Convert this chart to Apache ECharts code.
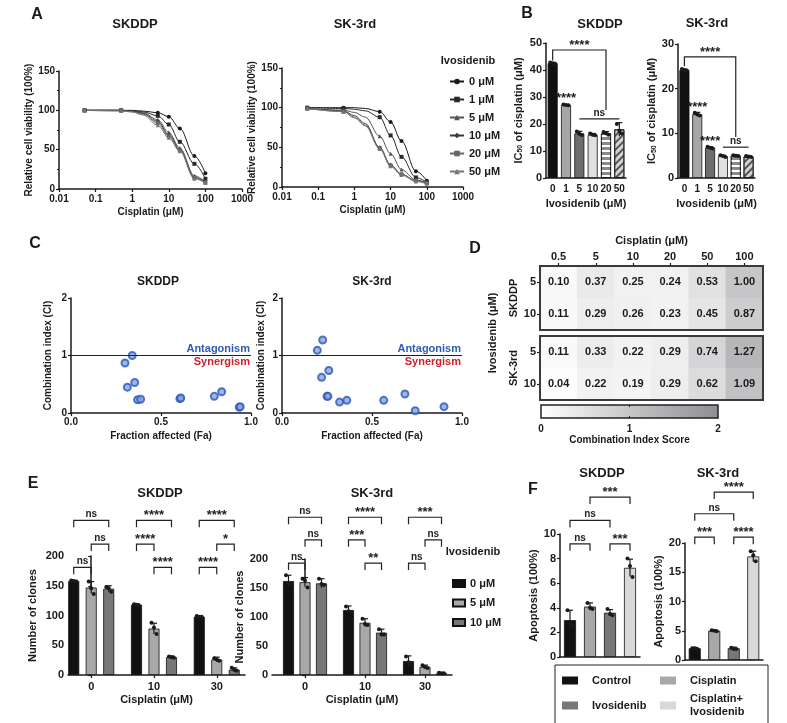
<!DOCTYPE html>
<html>
<head>
<meta charset="utf-8">
<script src="https://cdn.jsdelivr.net/npm/echarts@6/dist/echarts.min.js"></script>
<style>
  html, body { margin: 0; padding: 0; background: #fff; }
  #main { width: 787px; height: 723px; }
</style>
</head>
<body>
<div id="main"></div>
<script>
// ---- data ----
// A: cell viability curves, cisplatin doses (uM)
const aDose = [0.05, 0.5, 1, 2, 5, 10, 20, 50, 100];
const aMeasured = [0.05, 0.5, 5, 10, 20, 50, 100];
const ivoLevels = ['0 μM', '1 μM', '5 μM', '10 μM', '20 μM', '50 μM'];
const aSkddp = [
  [100, 100, 100, 99, 97, 92, 77, 42, 20],
  [100, 100, 99, 98, 93, 82, 60, 32, 13],
  [100, 100, 99, 97, 88, 72, 52, 17, 9],
  [100, 100, 99, 96, 86, 69, 50, 15, 9],
  [100, 100, 98, 95, 84, 67, 49, 14, 8],
  [100, 99, 98, 94, 81, 65, 48, 13, 8]
];
const aSk3rd = [
  [100, 100, 100, 99, 95, 82, 58, 20, 8],
  [100, 99, 98, 96, 88, 65, 38, 12, 6],
  [99, 97, 94, 88, 64, 42, 22, 9, 5],
  [99, 96, 90, 80, 50, 28, 16, 8, 5],
  [99, 95, 88, 78, 49, 27, 16, 8, 5],
  [99, 95, 87, 77, 48, 26, 15, 7, 4]
];

// B: IC50 of cisplatin
const ivoDose = ['0', '1', '5', '10', '20', '50'];
const bSkddp = [42.5, 27.0, 16.5, 16.0, 16.5, 18.0];
const bSkddpErr = [0.3, 0.2, 0.8, 0.5, 0.7, 2.5];
const bSkddpPts = [[42.8, 42.5, 42.3], [27.2, 27.0, 26.9], [17.2, 16.4, 15.9], [16.5, 16.0, 15.8], [17.0, 16.6, 16.0], [20.0, 17.5, 16.5]];
const bSkddpStars = ['', '****', '', '', '', ''];
const bSk3rd = [24.2, 14.3, 6.8, 4.9, 5.0, 4.8];
const bSk3rdErr = [0.2, 0.4, 0.2, 0.2, 0.1, 0.1];
const bSk3rdPts = [[24.4, 24.2, 24.0], [14.6, 14.2, 14.0], [7.0, 6.8, 6.6], [5.1, 4.9, 4.7], [5.1, 5.0, 4.9], [4.9, 4.8, 4.7]];
const bSk3rdStars = ['', '****', '****', '', '', ''];

// C: combination index vs fraction affected [Fa, CI]
const cSkddp = [[0.30, 0.87], [0.34, 1.00], [0.313, 0.45], [0.354, 0.53], [0.37, 0.23], [0.387, 0.24],
  [0.605, 0.25], [0.61, 0.26], [0.796, 0.29], [0.837, 0.37], [0.935, 0.10], [0.94, 0.11]];
const cSk3rd = [[0.196, 1.09], [0.226, 1.27], [0.22, 0.62], [0.26, 0.74], [0.25, 0.29], [0.255, 0.29],
  [0.32, 0.19], [0.36, 0.22], [0.565, 0.22], [0.683, 0.33], [0.74, 0.04], [0.90, 0.11]];

// D: CI heatmap
const cisDose = ['0.5', '5', '10', '20', '50', '100'];
const dRows = ['5', '10'];
const dSkddp = [[0.10, 0.37, 0.25, 0.24, 0.53, 1.00], [0.11, 0.29, 0.26, 0.23, 0.45, 0.87]];
const dSk3rd = [[0.11, 0.33, 0.22, 0.29, 0.74, 1.27], [0.04, 0.22, 0.19, 0.29, 0.62, 1.09]];

// E: colony numbers, groups = cisplatin 0/10/30, series = ivosidenib 0/5/10
const eGroups = ['0', '10', '30'];
const eNames = ['E0', 'E5', 'E10'];
const eLabels = { E0: '0 μM', E5: '5 μM', E10: '10 μM' };
const eSkddp = [[158, 118, 98], [147, 78, 26], [145, 30, 9]];
const eSkddpErr = [[1, 2, 1], [10, 9, 4], [5, 2, 3]];
const eSkddpPts = [
  [[159, 158, 157], [119, 118, 117], [99, 98, 98]],
  [[157, 146, 136], [88, 80, 69], [28, 26, 24]],
  [[148, 146, 140], [31, 30, 29], [12, 9, 7]]
];
const eSk3rd = [[162, 112, 24], [160, 90, 14], [158, 73, 3]];
const eSk3rdErr = [[10, 7, 9], [8, 7, 3], [8, 6, 1]];
const eSk3rdPts = [
  [[172, 158, 157], [118, 110, 108], [32, 22, 19]],
  [[166, 163, 151], [97, 88, 86], [17, 14, 12]],
  [[166, 157, 155], [79, 70, 70], [4, 3, 3]]
];

// F: apoptosis
const fNames = ['Control', 'Cisplatin', 'Ivosidenib', 'Cisplatin+\nIvosidenib'];
const fSkddp = [3.0, 4.1, 3.6, 7.25];
const fSkddpErr = [0.8, 0.3, 0.25, 0.7];
const fSkddpPts = [[3.8, 2.7, 2.5], [4.4, 4.0, 3.9], [3.9, 3.5, 3.4], [8.0, 7.4, 6.5]];
const fSk3rd = [2.0, 5.0, 2.0, 17.7];
const fSk3rdErr = [0.15, 0.15, 0.2, 0.9];
const fSk3rdPts = [[2.0, 2.0, 1.9], [5.1, 5.0, 4.9], [2.1, 1.9, 1.9], [18.6, 17.9, 16.9]];

// significance brackets: [group1, slot1, group2, slot2, y, text, yLeftEnd, yRightEnd]
const bSkddpBr = [[0, 0, 3.5, 0, 47.4, '****', 43.5, 25.2], [2, 0, 5, 0, 21.9, 'ns', 21.9, 21.9]];
const bSk3rdBr = [[0, 0, 4, 0, 27.1, '****', 25, 9.2], [3, 0, 5, 0, 6.9, 'ns', 6.9, 6.9]];
const eSkddpBr = [
  [0, -1, 0, 1, 260, 'ns'], [0, 0, 0, 1, 220, 'ns'], [0, -1, 0, 0, 181, 'ns'],
  [1, -1, 1, 1, 260, '****'], [1, -1, 1, 0, 220, '****'], [1, 0, 1, 1, 181, '****'],
  [2, -1, 2, 1, 260, '****'], [2, 0, 2, 1, 220, '*'], [2, -1, 2, 0, 181, '****']
];
const eSk3rdBr = [
  [0, -1, 0, 1, 272, 'ns'], [0, 0, 0, 1, 233, 'ns'], [0, -1, 0, 0, 193, 'ns'],
  [1, -1, 1, 1, 272, '****'], [1, -1, 1, 0, 233, '***'], [1, 0, 1, 1, 193, '**'],
  [2, -1, 2, 1, 272, '***'], [2, 0, 2, 1, 233, 'ns'], [2, -1, 2, 0, 193, 'ns']
];
const fSkddpBr = [[1, 0, 3, 0, 13.0, '***'], [0, 0, 2, 0, 11.1, 'ns'], [0, 0, 1, 0, 9.2, 'ns'], [2, 0, 3, 0, 9.2, '***']];
const fSk3rdBr = [[1, 0, 3, 0, 28.7, '****'], [0, 0, 2, 0, 25.0, 'ns'], [0, 0, 1, 0, 21.0, '***'], [2, 0, 3, 0, 21.0, '****']];

// ---- styling helpers ----
const FONT = '"Liberation Sans", Arial, sans-serif';
const INK = '#1a1a1a';

function merge(a, b) {
  const out = Object.assign({}, a);
  for (const k in b) {
    if (b[k] && typeof b[k] === 'object' && !Array.isArray(b[k]) && a[k] && typeof a[k] === 'object') out[k] = merge(a[k], b[k]);
    else out[k] = b[k];
  }
  return out;
}

const baseAxis = {
  nameLocation: 'middle',
  axisLine: { show: true, lineStyle: { color: INK, width: 1.5 } },
  axisTick: { show: true, length: 3, lineStyle: { color: INK, width: 1.2 } },
  axisLabel: { color: INK, fontWeight: 'bold', fontSize: 10, fontFamily: FONT, margin: 4 },
  splitLine: { show: false },
  nameTextStyle: { color: INK, fontWeight: 'bold', fontSize: 10, fontFamily: FONT }
};
const ax = (o) => merge(baseAxis, o);

function dotSeries(gi, means, errs, pts, xs, shift) {
  return {
    type: 'custom', xAxisIndex: gi, yAxisIndex: gi, z: 4, silent: true, clip: false,
    data: means.map((m, i) => [xs[i], m, errs[i]].concat(pts[i])),
    renderItem: function (params, api) {
      const xv = api.value(0), m = api.value(1), e = api.value(2);
      const x = api.coord([xv, m])[0] + shift;
      const top = api.coord([xv, m + e])[1];
      const bot = api.coord([xv, Math.max(m - e, 0)])[1];
      const st = { stroke: INK, lineWidth: 1.2 };
      const kids = [
        { type: 'line', shape: { x1: x, y1: top, x2: x, y2: bot }, style: st },
        { type: 'line', shape: { x1: x - 3, y1: top, x2: x + 3, y2: top }, style: st }
      ];
      [-2.5, 0, 2.5].forEach((dx, k) => {
        const y = api.coord([xv, api.value(3 + k)])[1];
        kids.push({ type: 'circle', shape: { cx: x + dx, cy: y, r: 2 }, style: { fill: INK } });
      });
      return { type: 'group', children: kids };
    }
  };
}

function bracketSeries(gi, list, spacing) {
  return {
    type: 'custom', xAxisIndex: gi, yAxisIndex: gi, z: 5, silent: true, clip: false,
    data: list.map(b => [b[0], b[4]]),
    renderItem: function (params, api) {
      const b = list[params.dataIndex];
      const x1 = api.coord([b[0], b[4]])[0] + b[1] * spacing;
      const x2 = api.coord([b[2], b[4]])[0] + b[3] * spacing;
      const y = api.coord([b[0], b[4]])[1];
      const yl = b[6] != null ? api.coord([b[0], b[6]])[1] : y + 7;
      const yr = b[7] != null ? api.coord([b[2], b[7]])[1] : y + 7;
      const star = b[5].indexOf('*') >= 0;
      return {
        type: 'group', children: [
          { type: 'polyline', shape: { points: [[x1, yl], [x1, y], [x2, y], [x2, yr]] }, style: { stroke: '#222', lineWidth: 1.2, fill: null } },
          { type: 'text', x: (x1 + x2) / 2, y: star ? y + 2 : y - 1,
            style: { text: b[5], fill: '#222', font: (star ? 'bold 13px ' : 'bold 10px ') + FONT, align: 'center', verticalAlign: 'bottom' } }
        ]
      };
    }
  };
}

// ---- grids ----
const gridBox = [
  { left: 59, top: 71, width: 183, height: 118 },   // 0 A SKDDP
  { left: 282, top: 68, width: 181, height: 119 },  // 1 A SK-3rd
  { left: 546, top: 43, width: 80, height: 135 },   // 2 B SKDDP
  { left: 678, top: 44, width: 77, height: 134 },   // 3 B SK-3rd
  { left: 71, top: 298, width: 180, height: 115 },  // 4 C SKDDP
  { left: 282, top: 298, width: 180, height: 115 }, // 5 C SK-3rd
  { left: 540, top: 266, width: 223, height: 64 },  // 6 D top
  { left: 540, top: 336, width: 223, height: 64 },  // 7 D bottom
  { left: 541, top: 405, width: 177, height: 13 },  // 8 colorbar
  { left: 68, top: 556, width: 177, height: 119 },  // 9 E SKDDP
  { left: 272, top: 559, width: 180, height: 116 }, // 10 E SK-3rd
  { left: 560, top: 534, width: 80, height: 123 },  // 11 F SKDDP
  { left: 685, top: 543, width: 78, height: 117 }   // 12 F SK-3rd
];
const grid = gridBox.map((g, i) => Object.assign({ outerBoundsMode: 'none', containLabel: false }, g,
  (i === 6 || i === 7) ? { show: true, borderColor: '#3a3a3a', borderWidth: 2, z: 10, backgroundColor: 'transparent' } : {}));

const numFmt = v => String(Number((+v).toPrecision(3)));

const xAxis = [
  ax({ gridIndex: 0, type: 'log', logBase: 10, min: 0.01, max: 1000, name: 'Cisplatin (μM)', nameGap: 18, axisLabel: { formatter: numFmt, margin: 5 } }),
  ax({ gridIndex: 1, type: 'log', logBase: 10, min: 0.01, max: 1000, name: 'Cisplatin (μM)', nameGap: 18, axisLabel: { formatter: numFmt, margin: 5 } }),
  ax({ gridIndex: 2, type: 'category', data: ivoDose, axisTick: { show: false }, name: 'Ivosidenib (μM)', nameGap: 20, axisLabel: { margin: 6, interval: 0 }, nameTextStyle: { fontSize: 11 } }),
  ax({ gridIndex: 3, type: 'category', data: ivoDose, axisTick: { show: false }, name: 'Ivosidenib (μM)', nameGap: 20, axisLabel: { margin: 6, interval: 0 }, nameTextStyle: { fontSize: 11 } }),
  ax({ gridIndex: 4, type: 'value', min: 0, max: 1, interval: 0.5, name: 'Fraction affected (Fa)', nameGap: 18, axisLabel: { formatter: v => v.toFixed(1) } }),
  ax({ gridIndex: 5, type: 'value', min: 0, max: 1, interval: 0.5, name: 'Fraction affected (Fa)', nameGap: 18, axisLabel: { formatter: v => v.toFixed(1) } }),
  ax({ gridIndex: 6, type: 'category', data: cisDose, position: 'top', axisLine: { show: false }, axisTick: { alignWithLabel: true },
    name: 'Cisplatin (μM)', nameGap: 20, axisLabel: { margin: 4, interval: 0, fontSize: 11 }, nameTextStyle: { fontSize: 11 } }),
  ax({ gridIndex: 7, type: 'category', data: cisDose, show: false }),
  ax({ gridIndex: 8, type: 'value', min: 0, max: 2, interval: 1, axisLine: { show: false }, axisTick: { show: false },
    name: 'Combination Index Score', nameGap: 17, axisLabel: { margin: 6 } }),
  ax({ gridIndex: 9, type: 'value', min: -0.37, max: 2.45, name: 'Cisplatin (μM)', nameGap: 19,
    axisLabel: { customValues: [0, 1, 2], formatter: v => eGroups[Math.round(v)], margin: 6, fontSize: 11 },
    axisTick: { customValues: [0, 1, 2] }, nameTextStyle: { fontSize: 11 } }),
  ax({ gridIndex: 10, type: 'value', min: -0.55, max: 2.45, name: 'Cisplatin (μM)', nameGap: 19,
    axisLabel: { customValues: [0, 1, 2], formatter: v => eGroups[Math.round(v)], margin: 6, fontSize: 11 },
    axisTick: { customValues: [0, 1, 2] }, nameTextStyle: { fontSize: 11 } }),
  ax({ gridIndex: 11, type: 'category', data: fNames, axisTick: { show: false }, axisLabel: { show: false } }),
  ax({ gridIndex: 12, type: 'category', data: fNames, axisTick: { show: false }, axisLabel: { show: false } })
];

const minor = { show: true, splitNumber: 2, length: 2, lineStyle: { color: INK, width: 1 } };
const bName = '{a|IC}{s|50}{a| of cisplatin (μM)}';
const bRich = { a: { fontSize: 11, fontWeight: 'bold', color: INK, fontFamily: FONT }, s: { fontSize: 7, fontWeight: 'bold', color: INK, fontFamily: FONT, verticalAlign: 'bottom' } };
const yAxis = [
  ax({ gridIndex: 0, type: 'value', min: 0, max: 150, interval: 50, minorTick: minor, name: 'Relative cell viability (100%)', nameGap: 22 }),
  ax({ gridIndex: 1, type: 'value', min: 0, max: 150, interval: 50, minorTick: minor, name: 'Relative cell viability (100%)', nameGap: 21 }),
  ax({ gridIndex: 2, type: 'value', min: 0, max: 50, interval: 10, name: bName, nameGap: 22, nameTextStyle: { rich: bRich }, axisLabel: { fontSize: 11 } }),
  ax({ gridIndex: 3, type: 'value', min: 0, max: 30, interval: 10, name: bName, nameGap: 18, nameTextStyle: { rich: bRich }, axisLabel: { fontSize: 11 } }),
  ax({ gridIndex: 4, type: 'value', min: 0, max: 2, interval: 1, name: 'Combination index (CI)', nameGap: 18 }),
  ax({ gridIndex: 5, type: 'value', min: 0, max: 2, interval: 1, name: 'Combination index (CI)', nameGap: 16 }),
  ax({ gridIndex: 6, type: 'category', data: dRows, inverse: true, axisLine: { show: false }, axisTick: { alignWithLabel: true },
    name: 'SKDDP', nameGap: 21, axisLabel: { fontSize: 11 }, nameTextStyle: { fontSize: 11 } }),
  ax({ gridIndex: 7, type: 'category', data: dRows, inverse: true, axisLine: { show: false }, axisTick: { alignWithLabel: true },
    name: 'SK-3rd', nameGap: 21, axisLabel: { fontSize: 11 }, nameTextStyle: { fontSize: 11 } }),
  ax({ gridIndex: 8, type: 'value', min: 0, max: 1, show: false }),
  ax({ gridIndex: 9, type: 'value', min: 0, max: 200, interval: 50, name: 'Number of clones', nameGap: 30, axisLabel: { fontSize: 11 }, nameTextStyle: { fontSize: 11 } }),
  ax({ gridIndex: 10, type: 'value', min: 0, max: 200, interval: 50, name: 'Number of clones', nameGap: 17, axisLabel: { fontSize: 11 }, nameTextStyle: { fontSize: 11 } }),
  ax({ gridIndex: 11, type: 'value', min: 0, max: 10, interval: 2, name: 'Apoptosis (100%)', nameGap: 20, axisLabel: { fontSize: 11 }, nameTextStyle: { fontSize: 11 } }),
  ax({ gridIndex: 12, type: 'value', min: 0, max: 20, interval: 5, name: 'Apoptosis (100%)', nameGap: 17, axisLabel: { fontSize: 11 }, nameTextStyle: { fontSize: 11 } })
];

// ---- series ----
const series = [];

// A: fitted curves with measured points
const aSymbols = ['circle', 'rect', 'triangle', 'diamond', 'rect', 'triangle'];
const aColors = ['#1a1a1a', '#2a2a2a', '#555555', '#3a3a3a', '#666666', '#777777'];
[aSkddp, aSk3rd].forEach((curves, gi) => {
  curves.forEach((vals, k) => {
    series.push({
      name: ivoLevels[k], type: 'line', xAxisIndex: gi, yAxisIndex: gi, z: 3,
      smooth: 0.35, smoothMonotone: 'x', symbol: aSymbols[k], symbolSize: 4,
      lineStyle: { color: aColors[k], width: 1 }, itemStyle: { color: aColors[k] },
      data: aDose.map((d, i) => aMeasured.indexOf(d) >= 0 ? [d, vals[i]] : { value: [d, vals[i]], symbol: 'none' })
    });
  });
});

// B: IC50 bars
const bColors = ['#111111', '#a6a6a6', '#6e6e6e', '#e0e0e0', '#8a8a8a', '#d4d4d4'];
function bItem(i) {
  const st = { color: bColors[i], borderColor: '#111', borderWidth: 0.8 };
  if (i === 4) st.decal = { symbol: 'rect', symbolSize: 1, dashArrayX: [1, 0], dashArrayY: [1.5, 2.5], color: '#ffffff', rotation: 0 };
  if (i === 5) st.decal = { symbol: 'rect', symbolSize: 1, dashArrayX: [1, 0], dashArrayY: [1.2, 2.6], color: '#555555', rotation: -Math.PI / 4 };
  return st;
}
[[bSkddp, bSkddpStars, 2], [bSk3rd, bSk3rdStars, 3]].forEach(([vals, stars, gi]) => {
  series.push({
    type: 'bar', xAxisIndex: gi, yAxisIndex: gi, barWidth: 10, z: 2,
    data: vals.map((v, i) => ({
      value: v, itemStyle: bItem(i),
      label: stars[i] ? { show: true, position: 'top', distance: 0, formatter: stars[i], fontSize: 13, fontWeight: 'bold', color: INK, fontFamily: FONT } : { show: false }
    }))
  });
});
series.push(dotSeries(2, bSkddp, bSkddpErr, bSkddpPts, [0, 1, 2, 3, 4, 5], 0));
series.push(dotSeries(3, bSk3rd, bSk3rdErr, bSk3rdPts, [0, 1, 2, 3, 4, 5], 0));
series.push(bracketSeries(2, bSkddpBr, 0));
series.push(bracketSeries(3, bSk3rdBr, 0));

// C: CI scatter
[cSkddp, cSk3rd].forEach((pts, j) => {
  series.push({
    type: 'scatter', xAxisIndex: 4 + j, yAxisIndex: 4 + j, symbolSize: 7, z: 3,
    itemStyle: { color: '#86a3e2', borderColor: '#2c58b8', borderWidth: 2 },
    data: pts,
    markLine: {
      silent: true, symbol: ['none', 'none'], animation: false,
      lineStyle: { color: '#222', width: 1, type: 'solid' },
      data: [
        { yAxis: 1, label: { show: true, position: 'insideEndTop', distance: 1, formatter: 'Antagonism', color: '#2f5bb7', fontWeight: 'bold', fontSize: 11, fontFamily: FONT } },
        { yAxis: 1, label: { show: true, position: 'insideEndBottom', distance: 1, formatter: 'Synergism', color: '#d0202a', fontWeight: 'bold', fontSize: 11, fontFamily: FONT } }
      ]
    }
  });
});

// D: heatmaps
const heatIdx = [];
[dSkddp, dSk3rd].forEach((rows, j) => {
  heatIdx.push(series.length);
  const data = [];
  rows.forEach((r, ri) => r.forEach((v, ci) => data.push([ci, ri, v])));
  series.push({
    type: 'heatmap', xAxisIndex: 6 + j, yAxisIndex: 6 + j, data: data,
    label: { show: true, formatter: p => p.value[2].toFixed(2), color: INK, fontWeight: 'bold', fontSize: 11, fontFamily: FONT },
    itemStyle: { borderWidth: 0 }
  });
});
const ciColors = ['#ffffff', '#8d8d92'];
series.push({
  type: 'custom', xAxisIndex: 8, yAxisIndex: 8, silent: true, clip: false,
  data: [[0, 2]],
  renderItem: function (params, api) {
    const p1 = api.coord([api.value(0), 1]);
    const p2 = api.coord([api.value(1), 0]);
    const mid = api.coord([1, 0])[0];
    return {
      type: 'group', children: [
        { type: 'rect', shape: { x: p1[0], y: p1[1], width: p2[0] - p1[0], height: p2[1] - p1[1] },
          style: { fill: new echarts.graphic.LinearGradient(0, 0, 1, 0, [{ offset: 0, color: ciColors[0] }, { offset: 1, color: ciColors[1] }]), stroke: '#222', lineWidth: 1.5 } },
        { type: 'line', shape: { x1: mid, y1: p1[1], x2: mid, y2: p1[1] + 2 }, style: { stroke: '#222', lineWidth: 1 } },
        { type: 'line', shape: { x1: mid, y1: p2[1] - 2, x2: mid, y2: p2[1] }, style: { stroke: '#222', lineWidth: 1 } }
      ]
    };
  }
});

// E: colony bars
const eColors = ['#111111', '#a8a8a8', '#777777'];
[[eSkddp, eSkddpErr, eSkddpPts, eSkddpBr, 9, '59%', 17.5], [eSk3rd, eSk3rdErr, eSk3rdPts, eSk3rdBr, 10, '50%', 16.5]].forEach(([vals, errs, pts, br, gi, gap, step]) => {
  vals.forEach((row, k) => {
    series.push({
      name: eNames[k], type: 'bar', xAxisIndex: gi, yAxisIndex: gi, barWidth: 11, barGap: gap, z: 2,
      itemStyle: { color: eColors[k], borderColor: '#111', borderWidth: 0.8 },
      data: row.map((v, i) => [i, v])
    });
  });
  vals.forEach((row, k) => series.push(dotSeries(gi, row, errs[k], pts[k], [0, 1, 2], (k - 1) * step)));
  series.push(bracketSeries(gi, br, step));
});

// F: apoptosis bars
const fColors = ['#111111', '#a8a8a8', '#777777', '#d9d9d9'];
[[fSkddp, fSkddpErr, fSkddpPts, fSkddpBr, 11], [fSk3rd, fSk3rdErr, fSk3rdPts, fSk3rdBr, 12]].forEach(([vals, errs, pts, br, gi]) => {
  fNames.forEach((nm, k) => {
    series.push({
      name: nm, type: 'bar', xAxisIndex: gi, yAxisIndex: gi, barWidth: 12, barGap: '-100%', z: 2,
      itemStyle: { color: fColors[k], borderColor: '#111', borderWidth: 0.8 },
      data: vals.map((v, i) => i === k ? v : '-')
    });
  });
  series.push(dotSeries(gi, vals, errs, pts, [0, 1, 2, 3], 0));
  series.push(bracketSeries(gi, br, 0));
});

// ---- text labels ----
function txt(t, x, y, size, extra) {
  return Object.assign({ type: 'text', x: x, y: y, silent: true,
    style: { text: t, fill: INK, font: 'bold ' + size + 'px ' + FONT, align: 'center', verticalAlign: 'middle' } }, extra || {});
}
const graphic = [
  txt('A', 37, 15, 16), txt('B', 527, 14, 16), txt('C', 35, 244, 16), txt('D', 475, 249, 16), txt('E', 33, 484, 16), txt('F', 533, 490, 16),
  txt('SKDDP', 135, 24, 13), txt('SK-3rd', 355, 24, 13), txt('SKDDP', 600, 24, 13), txt('SK-3rd', 707, 23, 13),
  txt('SKDDP', 158, 282, 12), txt('SK-3rd', 372, 282, 12),
  txt('SKDDP', 160, 493, 13), txt('SK-3rd', 372, 493, 13),
  txt('SKDDP', 602, 473, 13), txt('SK-3rd', 718, 473, 13),
  txt('Ivosidenib', 468, 61, 11), txt('Ivosidenib', 473, 552, 11),
  txt('Ivosidenib (μM)', 493, 333, 11, { rotation: Math.PI / 2 })
];

const legendText = { color: INK, fontWeight: 'bold', fontSize: 11, fontFamily: FONT };
const option = {
  animation: false,
  backgroundColor: '#ffffff',
  grid: grid,
  xAxis: xAxis,
  yAxis: yAxis,
  visualMap: {
    type: 'continuous', show: false, min: 0, max: 2, dimension: 2, seriesIndex: heatIdx,
    inRange: { color: ciColors }
  },
  legend: [
    { data: ivoLevels, left: 444, top: 71, orient: 'vertical', itemWidth: 14, itemHeight: 7, itemGap: 7, selectedMode: false,
      textStyle: legendText },
    { data: eNames, formatter: n => eLabels[n], left: 447, top: 573, orient: 'vertical', icon: 'rect', itemWidth: 12, itemHeight: 7, itemGap: 8.5,
      selectedMode: false, textStyle: legendText },
    { data: fNames, left: 555, top: 665, width: 200, orient: 'horizontal', icon: 'rect', itemWidth: 16, itemHeight: 8, itemGap: 12,
      selectedMode: false, borderColor: '#222', borderWidth: 1, padding: [9, 22, 5, 7], itemStyle: { borderWidth: 0 },
      textStyle: Object.assign({ width: 56, padding: [0, 0, 0, 9], lineHeight: 13 }, legendText) }
  ],
  graphic: graphic,
  series: series
};

const chart = echarts.init(document.getElementById('main'), null, { renderer: 'canvas' });
chart.setOption(option);
</script>
</body>
</html>
